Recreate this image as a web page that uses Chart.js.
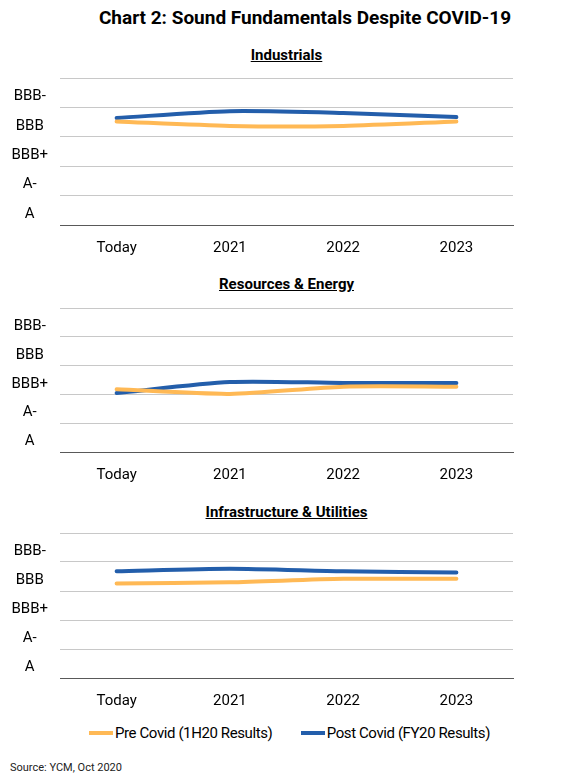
<!DOCTYPE html>
<html>
<head>
<meta charset="utf-8">
<script src="https://cdn.jsdelivr.net/npm/chart.js@4.4.0/dist/chart.umd.min.js"></script>
<style>
  body { margin: 0; background: #fff; width: 564px; height: 783px; position: relative; overflow: hidden; }
  .txt { position: absolute; color: #000; white-space: nowrap; z-index: 2; }
  #mainTitle { top: 6px; left: 0; width: 610px; text-align: center; font: bold 19px Roboto, sans-serif; }
  .sub { left: 0; width: 573px; text-align: center; font: bold 15px Roboto, sans-serif; text-decoration: underline; }
  .panel { position: absolute; left: 0; width: 564px; }
  #legend { top: 724px; left: 89px; font: 15px Roboto, sans-serif; letter-spacing: -0.4px; }
  #legend span.sw { display: inline-block; width: 24px; height: 4px; vertical-align: middle; margin-right: 2px; position: relative; top: -1px; }
  #legend span.item { margin-right: 25px; }
  #source { top: 761px; left: 10px; font: 11px Roboto, sans-serif; color: #222; }
</style>
</head>
<body>
<div id="mainTitle" class="txt">Chart 2: Sound Fundamentals Despite COVID-19</div>

<div class="txt sub" style="top:46px">Industrials</div>
<div class="panel" style="top:67.7px;height:189px"><canvas id="c1"></canvas></div>

<div class="txt sub" style="top:275px">Resources &amp; Energy</div>
<div class="panel" style="top:297.7px;height:186.6px"><canvas id="c2"></canvas></div>

<div class="txt sub" style="top:503px">Infrastructure &amp; Utilities</div>
<div class="panel" style="top:523.3px;height:187px"><canvas id="c3"></canvas></div>

<div id="legend" class="txt">
  <span class="item"><span class="sw" style="background:#FFB955"></span>Pre Covid (1H20 Results)</span>
  <span class="item"><span class="sw" style="background:#235EAB"></span>Post Covid (FY20 Results)</span>
</div>
<div id="source" class="txt">Source: YCM, Oct 2020</div>

<script>
// categories and rating bands (0 = bottom band "A")
const categories = ["Today", "2021", "2022", "2023"];
const ratingBands = ["A", "A-", "BBB+", "BBB", "BBB-"];

// values, in band units
const industrialsPre = [3.52, 3.37, 3.37, 3.52];
const industrialsPost = [3.64, 3.87, 3.81, 3.67];
const resourcesPre = [2.19, 2.03, 2.28, 2.28];
const resourcesPost = [2.06, 2.44, 2.41, 2.41];
const infraPre = [3.26, 3.30, 3.42, 3.42];
const infraPost = [3.68, 3.77, 3.68, 3.64];

const preLabel = "Pre Covid (1H20 Results)";
const postLabel = "Post Covid (FY20 Results)";
const orange = "#FFB955";
const blue = "#235EAB";
const axisFont = { family: "Roboto, sans-serif", size: 15 };

function makeChart(id, pre, post) {
    return new Chart(document.getElementById(id), {
        type: "line",
        data: {
            labels: categories,
            datasets: [
                { label: preLabel, data: pre, borderColor: orange, backgroundColor: orange },
                { label: postLabel, data: post, borderColor: blue, backgroundColor: blue },
            ],
        },
        options: {
            responsive: true,
            maintainAspectRatio: false,
            animation: false,
            layout: { padding: { top: 10, left: 4, right: 51, bottom: 0 } },
            elements: {
                line: { borderWidth: 4, tension: 0.25, borderCapStyle: "round" },
                point: { radius: 0 },
            },
            plugins: { legend: { display: false }, tooltip: { enabled: false } },
            scales: {
                x: {
                    offset: true,
                    grid: { display: false, drawTicks: false },
                    border: { display: true, color: "#595959", width: 1 },
                    ticks: { color: "#000", font: axisFont, padding: 14, maxRotation: 0, autoSkip: false },
                    afterFit: (s) => { s.paddingLeft = 0; s.paddingRight = 0; s.height = 32; },
                },
                y: {
                    min: 0,
                    max: 5,
                    grid: { color: "#c8c8c8", drawTicks: false },
                    border: { display: false },
                    ticks: {
                        stepSize: 1,
                        autoSkip: false,
                        color: "#000",
                        font: axisFont,
                        padding: 12,
                        crossAlign: "center",
                        labelOffset: -11,
                        callback: (v) => ratingBands[v] || "",
                    },
                    afterFit: (s) => { s.paddingTop = 0; s.paddingBottom = 0; s.width = 56; },
                },
            },
        },
    });
}

makeChart("c1", industrialsPre, industrialsPost);
makeChart("c2", resourcesPre, resourcesPost);
makeChart("c3", infraPre, infraPost);
</script>
</body>
</html>
